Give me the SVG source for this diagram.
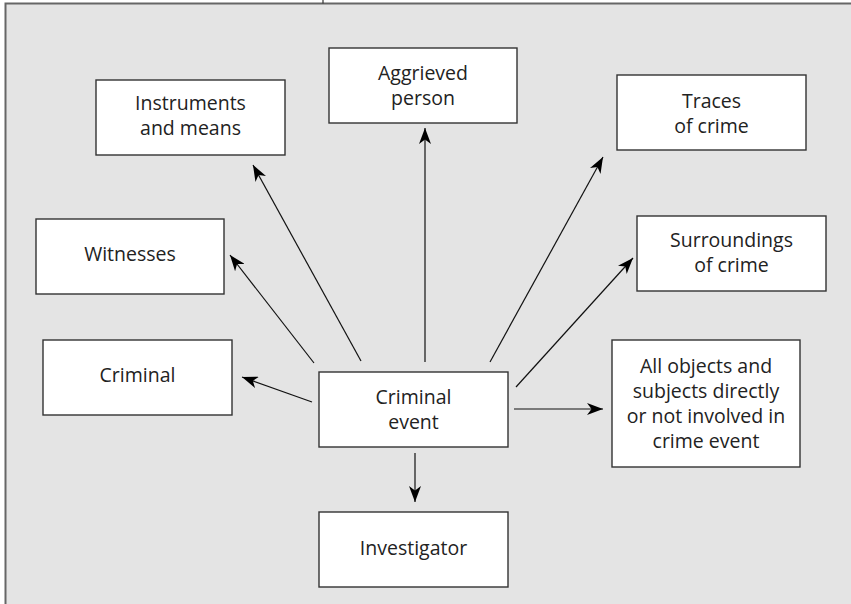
<svg xmlns="http://www.w3.org/2000/svg" width="851" height="604" viewBox="0 0 851 604">
<style>
.bg{fill:#e4e4e4;stroke:#666;stroke-width:2}
.box{fill:#fff;stroke:#333;stroke-width:1.4}
.t{font-family:"Open Sans","Liberation Sans",sans-serif;font-size:19.5px;fill:#222;text-anchor:middle}
.c{stroke:#111;stroke-width:1.2;fill:none;marker-end:url(#ah)}
</style>
<defs>
<marker id="ah" viewBox="0 0 16 12" markerWidth="16" markerHeight="12" refX="16" refY="6" orient="auto" markerUnits="userSpaceOnUse">
<path d="M0,0 L16,6 L0,12 L4.5,6 Z" fill="#000"/>
</marker>
</defs>
<rect class="bg" x="5.5" y="3.5" width="860" height="620"/>
<line x1="323" y1="0" x2="323" y2="3.5" stroke="#333" stroke-width="1.2"/>
<g id="connectors">
<line class="c" x1="312" y1="402" x2="242" y2="377"/>
<line class="c" x1="314" y1="363" x2="230" y2="255"/>
<line class="c" x1="361" y1="361" x2="253" y2="165"/>
<line class="c" x1="425" y1="362" x2="425" y2="128"/>
<line class="c" x1="490" y1="362" x2="603" y2="157"/>
<line class="c" x1="516" y1="387" x2="633" y2="258"/>
<line class="c" x1="514" y1="409" x2="603" y2="409"/>
<line class="c" x1="415" y1="453" x2="415" y2="502"/>
</g>
<g id="aggrieved">
<rect class="box" x="329" y="48" width="188" height="75"/>
<text class="t" x="423" y="80">Aggrieved</text>
<text class="t" x="423" y="105">person</text>
</g>
<g id="instruments">
<rect class="box" x="96" y="80" width="189" height="75"/>
<text class="t" x="190.5" y="110">Instruments</text>
<text class="t" x="190.5" y="135">and means</text>
</g>
<g id="traces">
<rect class="box" x="617" y="75" width="189" height="75"/>
<text class="t" x="711.5" y="108">Traces</text>
<text class="t" x="711.5" y="133">of crime</text>
</g>
<g id="witnesses">
<rect class="box" x="36" y="219" width="188" height="75"/>
<text class="t" x="130" y="261">Witnesses</text>
</g>
<g id="surroundings">
<rect class="box" x="637" y="216" width="189" height="75"/>
<text class="t" x="731.5" y="247">Surroundings</text>
<text class="t" x="731.5" y="272">of crime</text>
</g>
<g id="criminal">
<rect class="box" x="43" y="340" width="189" height="75"/>
<text class="t" x="137.5" y="382">Criminal</text>
</g>
<g id="criminal-event">
<rect class="box" x="319" y="372" width="189" height="75"/>
<text class="t" x="413.5" y="404">Criminal</text>
<text class="t" x="413.5" y="429">event</text>
</g>
<g id="all-objects">
<rect class="box" x="612" y="340" width="188" height="127"/>
<text class="t" x="706" y="373">All objects and</text>
<text class="t" x="706" y="398">subjects directly</text>
<text class="t" x="706" y="423">or not involved in</text>
<text class="t" x="706" y="448">crime event</text>
</g>
<g id="investigator">
<rect class="box" x="319" y="512" width="189" height="75"/>
<text class="t" x="413.5" y="555">Investigator</text>
</g>
</svg>
